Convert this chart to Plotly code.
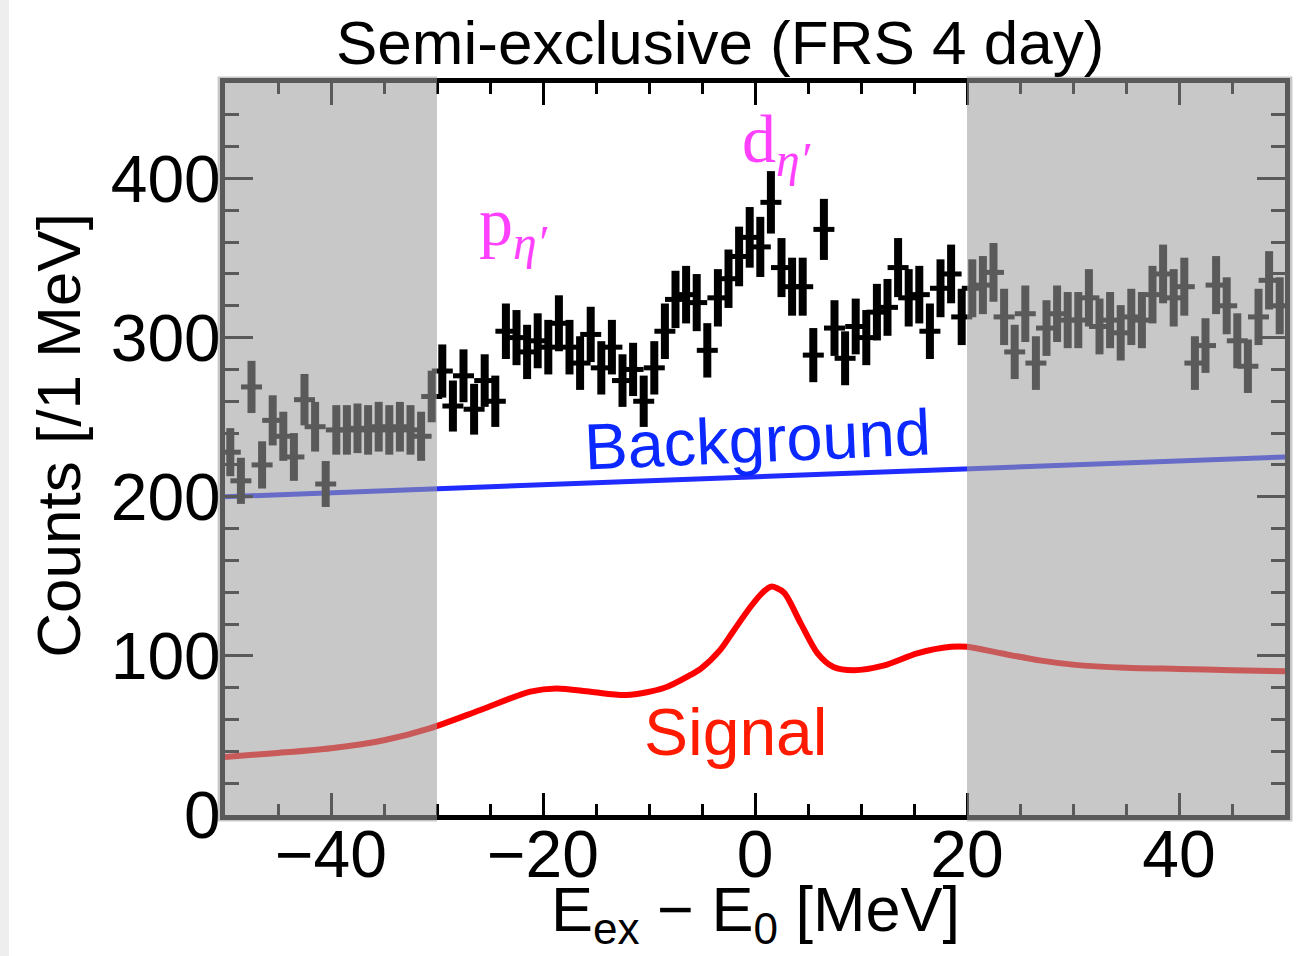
import numpy as np
import plotly.graph_objects as go

# Excitation-energy bins (1 MeV wide) and counts per bin
bin_centers = np.arange(-49.5, 50.0, 1.0)
counts = [
    228, 210, 269, 220, 248, 238, 225, 261, 244, 208,
    242, 242, 243, 242, 244, 242, 244, 242, 238, 263,
    279, 257, 276, 255, 273, 260, 304, 300, 291, 298,
    294, 309, 294, 284, 302, 281, 294, 273, 280, 260,
    281, 304, 324, 327, 322, 292, 325, 337, 351, 363,
    357, 385, 344, 332, 332, 289, 368, 306, 287, 307,
    300, 316, 319, 344, 325, 327, 304, 331, 340, 313,
    331, 333, 341, 313, 291, 315, 284, 306, 315, 311,
    311, 325, 307, 311, 303, 313, 311, 327, 340, 325,
    332, 284, 295, 333, 320, 298, 282, 313, 336, 320,
]
count_errors = np.sqrt(counts)

# Background estimate
bg_x = [-50, -30, 0, 20, 50]
bg_y = [200, 205, 212.5, 217.5, 225]

# Expected signal spectrum
signal_x = [-50, -45, -40, -35, -30.6, -25.9, -21.2, -18.7, -15.5, -12.1,
            -8.6, -6.1, -5.1, -3.3, -2.0, -0.4, 0.6, 1.5, 2.7, 4.3,
            5.9, 7.4, 9.3, 12.2, 15.3, 18.5, 20, 23.2, 27, 30,
            35, 40, 45, 50]
signal_y = [36.5, 39, 42, 47, 54.6, 66, 77.5, 79.5, 77.4, 75.4,
            79.8, 88, 92, 103.6, 116, 131, 139, 143.5, 140, 120.6,
            101.6, 93, 91, 94, 101.6, 105.7, 105.7, 101.6, 97, 94.5,
            92.5, 91.8, 91, 90.3]

# Fit window edges (outside is shaded)
window_lo, window_hi = -30, 20
x_range = [-50, 50]
y_range = [0, 460]

FONT = "Liberation Sans, Arial, Helvetica, sans-serif"
SERIF = "Liberation Serif, Times New Roman, serif"

fig = go.Figure()

fig.add_trace(go.Scatter(
    x=bg_x, y=bg_y, mode="lines",
    line=dict(color="#1f2bff", width=5),
    hoverinfo="skip", showlegend=False,
))

fig.add_trace(go.Scatter(
    x=signal_x, y=signal_y, mode="lines",
    line=dict(color="#ff0000", width=6, shape="spline", smoothing=0.8),
    hoverinfo="skip", showlegend=False,
))

fig.add_trace(go.Scatter(
    x=bin_centers, y=counts, mode="markers",
    marker=dict(symbol="line-ew", size=15, color="black",
                line=dict(color="black", width=5)),
    error_y=dict(type="data", array=count_errors, visible=True,
                 color="black", thickness=8, width=0),
    showlegend=False,
))

# Shaded regions outside the fit window (drawn over data and frame)
x_span = x_range[1] - x_range[0]
p_lo = (window_lo - x_range[0]) / x_span
p_hi = (window_hi - x_range[0]) / x_span
shade = "rgba(158,158,158,0.57)"
for x0, x1 in [(-0.007, p_lo), (p_hi, 1.007)]:
    fig.add_shape(type="rect", xref="paper", yref="paper",
                  x0=x0, x1=x1, y0=-0.009, y1=1.009,
                  fillcolor=shade, line=dict(width=0), layer="above")

axis_common = dict(
    showgrid=False, zeroline=False,
    showline=True, linecolor="black", linewidth=5, mirror="allticks",
    ticks="inside", tickcolor="black", tickwidth=3,
    tickfont=dict(family=FONT, size=66, color="black"),
)

fig.update_xaxes(
    range=x_range, tick0=0, dtick=20, ticklen=22, ticklabelstandoff=-22,
    minor=dict(dtick=5, ticks="inside", ticklen=11, tickwidth=3, tickcolor="black"),
    **axis_common,
)
fig.update_yaxes(
    range=y_range, tick0=0, dtick=100, ticklen=28, ticklabelstandoff=-14,
    minor=dict(dtick=20, ticks="inside", ticklen=14, tickwidth=3, tickcolor="black"),
    **axis_common,
)

annotations = [
    dict(text="Semi-exclusive (FRS 4 day)", xref="paper", yref="paper",
         x=0.467, y=1.056, font=dict(family=FONT, size=62, color="black")),
    dict(text="E<sub>ex</sub> − E<sub>0</sub> [MeV]", xref="paper", yref="paper",
         x=0.5, y=-0.135, font=dict(family=FONT, size=63, color="black")),
    dict(text="Counts [/1 MeV]", xref="paper", yref="paper", textangle=-90,
         x=-0.157, y=0.519, font=dict(family=FONT, size=62, color="black")),
    dict(text="Background", x=0.2, y=236, textangle=-2.5,
         font=dict(family=FONT, size=65, color="#0a28ff")),
    dict(text="Signal", x=-1.8, y=52,
         font=dict(family=FONT, size=66, color="#ff1a00")),
    dict(text="p<sub><i>η′</i></sub>", x=-22.8, y=370,
         font=dict(family=SERIF, size=68, color="#ff40ff")),
    dict(text="d<sub><i>η′</i></sub>", x=2.0, y=422,
         font=dict(family=SERIF, size=68, color="#ff40ff")),
]
for a in annotations:
    a.setdefault("showarrow", False)
    a.setdefault("xanchor", "center")
    a.setdefault("yanchor", "middle")
fig.update_layout(annotations=annotations)

# Thin light strip at the far left edge of the page
fig.add_shape(type="rect", xref="paper", yref="paper",
              x0=-225 / 1060, x1=-216 / 1060, y0=-141 / 732, y1=1 + 83 / 732,
              fillcolor="#eeeeee", line=dict(width=0), layer="below")

fig.update_layout(
    width=1312, height=956,
    margin=dict(l=225, r=27, t=83, b=141),
    paper_bgcolor="white", plot_bgcolor="white",
    showlegend=False,
)

fig.write_html("out.html")
